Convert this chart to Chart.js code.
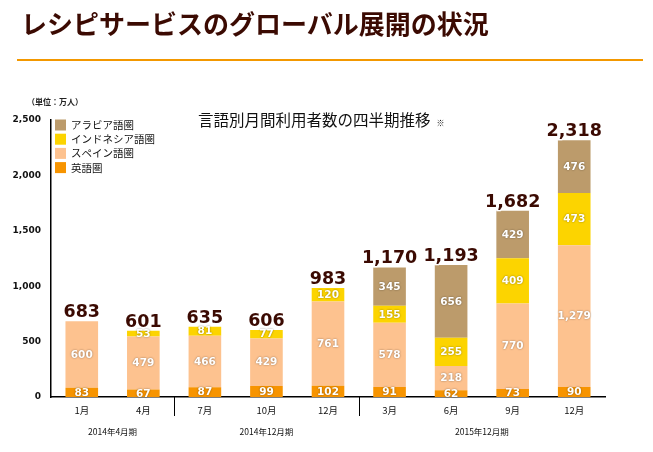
<!DOCTYPE html>
<html>
<head>
<meta charset="utf-8">
<script src="https://cdn.jsdelivr.net/npm/chart.js@4.4.1/dist/chart.umd.min.js"></script>
<style>
  html, body { margin: 0; padding: 0; background: #fff; }
  #wrap { position: relative; width: 653px; height: 452px; overflow: hidden; }
  #title { position: absolute; left: 21px; top: 4px; font: bold 26px "Noto Sans CJK JP", sans-serif; color: #3b0a02; white-space: nowrap; }
  #rule { position: absolute; left: 17px; top: 59px; width: 626px; height: 2px; background: #f39800; }
  #unit { position: absolute; left: 27px; top: 96px; font: bold 8px "Noto Sans CJK JP", sans-serif; color: #222; }
  #sub { position: absolute; left: 198px; top: 108px; font: 15.5px "Noto Sans CJK JP", sans-serif; color: #111; white-space: nowrap; }
  #sub span { font-size: 8px; margin-left: 6px; }
  canvas { position: absolute; left: 0; top: 0; }
</style>
</head>
<body>
<div id="wrap">
  <canvas id="grafica" width="653" height="452"></canvas>
  <div id="title">レシピサービスのグローバル展開の状況</div>
  <div id="rule"></div>
  <div id="unit">（単位：万人）</div>
  <div id="sub">言語別月間利用者数の四半期推移<span>※</span></div>
</div>
<script>
// Datos (万人)
const meses = ["1月", "4月", "7月", "10月", "12月", "3月", "6月", "9月", "12月"];
const ingles = [83, 67, 87, 99, 102, 91, 62, 73, 90];
const espanol = [600, 479, 466, 429, 761, 578, 218, 770, 1279];
const indonesio = [null, 53, 81, 77, 120, 155, 255, 409, 473];
const arabe = [null, null, null, null, null, 345, 656, 429, 476];
const totales = [683, 601, 635, 606, 983, 1170, 1193, 1682, 2318];
// Periodos (etiquetas de grupo debajo del eje)
const periodos = ["2014年4月期", "2014年12月期", "2015年12月期"];
const periodoDesde = [0, 2, 5];
const periodoHasta = [1, 4, 8];
const ticksY = [0, 500, 1000, 1500, 2000, 2500];

const fmt = v => v.toLocaleString("en-US");

// Etiquetas de valores, totales, leyenda y grupos
const etiquetasPlugin = {
    id: "etiquetas",
    afterDatasetsDraw(chart) {
        const ctx = chart.ctx;
        const area = chart.chartArea;
        const x = chart.scales.x;
        ctx.save();
        // valores dentro de las barras
        ctx.textAlign = "center";
        ctx.textBaseline = "middle";
        ctx.font = "bold 10.5px 'DejaVu Sans', sans-serif";
        chart.data.datasets.forEach((ds, i) => {
            chart.getDatasetMeta(i).data.forEach((bar, j) => {
                const v = ds.data[j];
                if (v == null) return;
                const y = (bar.y + bar.base) / 2;
                ctx.shadowColor = "rgba(0,0,0,0.45)";
                ctx.shadowBlur = 2;
                ctx.fillStyle = "#fff";
                ctx.fillText(fmt(v), bar.x, y + 0.5);
            });
        });
        ctx.shadowBlur = 0;
        ctx.shadowColor = "transparent";
        // totales
        const top = chart.getDatasetMeta(chart.data.datasets.length - 1).data;
        ctx.font = "bold 17.5px 'DejaVu Sans', sans-serif";
        ctx.textBaseline = "alphabetic";
        totales.forEach((t, j) => {
            let yTop = area.bottom;
            chart.data.datasets.forEach((ds, i) => {
                const b = chart.getDatasetMeta(i).data[j];
                if (ds.data[j] != null) yTop = Math.min(yTop, b.y);
            });
            const bx = top[j].x;
            ctx.lineWidth = 2.5;
            ctx.strokeStyle = "#fff";
            ctx.strokeText(fmt(t), bx, yTop - 4);
            ctx.fillStyle = "#3b0a02";
            ctx.fillText(fmt(t), bx, yTop - 4);
        });
        // leyenda (orden inverso)
        ctx.font = "10.5px 'Noto Sans CJK JP', sans-serif";
        ctx.textAlign = "left";
        ctx.textBaseline = "middle";
        const n = chart.data.datasets.length;
        for (let k = 0; k < n; k++) {
            const ds = chart.data.datasets[n - 1 - k];
            const cy = 125 + k * 14.2;
            ctx.fillStyle = ds.backgroundColor;
            ctx.fillRect(55, cy - 5.5, 11, 11);
            ctx.fillStyle = "#111";
            ctx.fillText(ds.label, 71, cy);
        }
        // separadores y periodos
        ctx.strokeStyle = "#000";
        ctx.lineWidth = 1;
        ctx.textAlign = "center";
        ctx.font = "8.5px 'Noto Sans CJK JP', sans-serif";
        periodos.forEach((p, k) => {
            const x0 = x.getPixelForValue(periodoDesde[k]);
            const x1 = x.getPixelForValue(periodoHasta[k]);
            if (k > 0) {
                const sx = Math.round((x.getPixelForValue(periodoDesde[k] - 1) + x0) / 2) + 0.5;
                ctx.beginPath();
                ctx.moveTo(sx, area.bottom);
                ctx.lineTo(sx, area.bottom + 19);
                ctx.stroke();
            }
            ctx.fillStyle = "#111";
            ctx.fillText(p, (x0 + x1) / 2, 432);
        });
        ctx.restore();
    }
};

const $grafica = document.querySelector("#grafica");
new Chart($grafica, {
    type: "bar",
    data: {
        labels: meses,
        datasets: [
            { label: "英語圏", data: ingles, backgroundColor: "#f79400" },
            { label: "スペイン語圏", data: espanol, backgroundColor: "#fdc28f" },
            { label: "インドネシア語圏", data: indonesio, backgroundColor: "#fcd400" },
            { label: "アラビア語圏", data: arabe, backgroundColor: "#bc9b6b" },
        ]
    },
    options: {
        responsive: false,
        animation: false,
        layout: { padding: { left: 0, right: 48, top: 120, bottom: 0 } },
        plugins: { legend: { display: false }, tooltip: { enabled: false } },
        datasets: { bar: { categoryPercentage: 1, barPercentage: 0.53 } },
        scales: {
            x: {
                stacked: true,
                grid: { display: false, drawTicks: false },
                border: { color: "#000", width: 1.5 },
                ticks: { color: "#111", padding: 8, font: { size: 9.5, family: "'Noto Sans CJK JP', sans-serif" } },
                afterFit: s => { s.height = 55; }
            },
            y: {
                stacked: true,
                min: 0,
                max: 2500,
                afterBuildTicks: s => { s.ticks = ticksY.map(v => ({ value: v })); },
                grid: { display: false, drawTicks: false },
                border: { color: "#000", width: 1.5 },
                ticks: {
                    color: "#111", padding: 10,
                    font: { size: 9, weight: "bold", family: "'DejaVu Sans', sans-serif" },
                    callback: v => fmt(v)
                },
                afterFit: s => { s.width = 51; }
            }
        }
    },
    plugins: [etiquetasPlugin]
});
</script>
</body>
</html>
